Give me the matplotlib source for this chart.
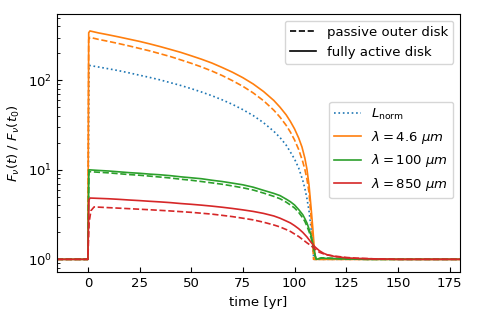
import numpy as np
import matplotlib
matplotlib.use("Agg")
import matplotlib.pyplot as plt
from matplotlib.lines import Line2D

plt.rcParams['font.size'] = 9.5
plt.rcParams['mathtext.fontset'] = 'dejavusans'

# values (time in yr, flux ratio)
t_lnorm = [-15, 0, 0.5, 5, 10, 15, 20, 25, 30, 35, 40, 45, 50, 55, 60, 65, 70, 75, 80, 85,
           90, 93, 96, 98, 100, 102, 104, 105, 106, 107, 108, 108.5, 109.2, 109.6, 180]
lnorm = [1, 1, 147, 141, 134.5, 128, 121, 114, 107.6, 101, 94, 87.5, 80.7, 74, 67.3, 60.5, 53.8, 47, 40.4, 33.6,
         26.9, 22.9, 18.8, 15.8, 13.2, 10.5, 7.6, 6.2, 4.8, 3.5, 2.2, 1.6, 1.1, 1.0, 1.0]

t_46_act = [-15, 0, 0.4, 1, 5, 10, 15, 20, 25, 30, 35, 40, 45, 50, 55, 60, 65, 70, 75, 80, 85,
            90, 93, 96, 98, 100, 102, 103.6, 105, 106, 107, 108, 108.8, 109.4, 110, 180]
f_46_act = [1, 1, 340, 356, 339, 322, 305, 288, 272, 255, 238, 221, 205, 188, 172, 156, 139, 123, 107, 91, 75,
            59.5, 50, 41, 34.7, 28.7, 22.7, 18, 13.5, 10.2, 6.8, 3.8, 2.3, 1.5, 1.0, 1.0]
t_46_pas = [-15, 0, 0.4, 1, 5, 10, 15, 20, 25, 30, 35, 40, 45, 50, 55, 60, 65, 70, 75, 80, 85,
            90, 93, 96, 98, 100, 102, 104, 105, 106, 107, 108, 108.6, 109.2, 180]
f_46_pas = [1, 1, 285, 302, 287, 272, 257, 242, 227, 213, 198, 184, 169, 155, 141, 127, 113, 99, 85.7, 72.3, 59.2,
            46.3, 38.7, 31.3, 26.4, 21.6, 16.9, 12.3, 10.1, 7.9, 5.6, 3.0, 1.8, 1.0, 1.0]

t_100_act = [-15, 0, 0.5, 5, 10, 15, 20, 25, 30, 35, 40, 45, 50, 55, 60, 65, 70, 75, 80, 85,
             90, 93, 96, 98, 100, 102, 104, 105, 106, 107, 108, 109, 110, 110.5, 113, 118, 125, 135, 180]
f_100_act = [1, 1, 10.0, 9.85, 9.7, 9.5, 9.3, 9.15, 8.95, 8.8, 8.6, 8.35, 8.15, 7.95, 7.65, 7.4, 7.1, 6.8, 6.4, 5.9,
             5.45, 5.15, 4.7, 4.4, 4.05, 3.6, 3.15, 2.85, 2.55, 2.2, 1.85, 1.45, 1.1, 1.0, 1.03, 1.02, 1.01, 1.0, 1.0]
t_100_pas = [-15, 0, 0.5, 5, 10, 15, 20, 25, 30, 35, 40, 45, 50, 55, 60, 65, 70, 75, 80, 85,
             90, 93, 96, 98, 100, 102, 104, 105, 106, 107, 108, 109, 110, 110.5, 113, 118, 125, 135, 180]
f_100_pas = [1, 1, 9.55, 9.4, 9.25, 9.05, 8.85, 8.7, 8.5, 8.3, 8.1, 7.85, 7.65, 7.4, 7.15, 6.9, 6.6, 6.3, 5.95, 5.5,
             5.05, 4.75, 4.35, 4.05, 3.75, 3.35, 2.9, 2.65, 2.35, 2.05, 1.75, 1.4, 1.1, 1.0, 1.04, 1.03, 1.01, 1.0, 1.0]

t_850_act = [-15, 0, 0.5, 1, 5, 10, 15, 20, 25, 30, 35, 40, 45, 50, 55, 60, 65, 70, 75, 80, 85,
             90, 93, 96, 98, 100, 102, 104, 106, 108, 110, 112, 114, 116, 120, 125, 130, 140, 150, 180]
f_850_act = [1, 1, 4.6, 4.84, 4.8, 4.75, 4.68, 4.6, 4.53, 4.45, 4.38, 4.3, 4.2, 4.12, 4.03, 3.93, 3.82, 3.7, 3.57, 3.43, 3.26,
             3.05, 2.88, 2.68, 2.55, 2.38, 2.2, 2.0, 1.78, 1.55, 1.37, 1.25, 1.17, 1.12, 1.07, 1.04, 1.025, 1.01, 1.0, 1.0]
t_850_pas = [-15, 0, 0.6, 1.5, 3, 10, 20, 30, 40, 50, 60, 65, 70, 75, 80, 85,
             90, 93, 96, 98, 100, 102, 104, 106, 108, 110, 112, 115, 119, 125, 130, 140, 150, 180]
f_850_pas = [1, 1, 2.6, 3.5, 3.85, 3.78, 3.68, 3.58, 3.47, 3.35, 3.2, 3.1, 3.0, 2.88, 2.76, 2.6,
             2.42, 2.3, 2.15, 2.05, 1.92, 1.8, 1.66, 1.53, 1.42, 1.3, 1.2, 1.13, 1.09, 1.05, 1.03, 1.01, 1.0, 1.0]

fig = plt.figure(figsize=(4.78, 3.19), dpi=100)
ax = fig.add_axes([0.119, 0.147, 0.843, 0.809])

lw = 1.2
ax.plot(t_lnorm, lnorm, ':', color='C0', lw=lw, label=r'$L_{\rm norm}$')
ax.plot(t_46_pas, f_46_pas, '--', color='C1', lw=lw)
ax.plot(t_46_act, f_46_act, '-', color='C1', lw=lw, label=r'$\lambda = 4.6\ \mu m$')
ax.plot(t_100_pas, f_100_pas, '--', color='C2', lw=lw)
ax.plot(t_100_act, f_100_act, '-', color='C2', lw=lw, label=r'$\lambda = 100\ \mu m$')
ax.plot(t_850_pas, f_850_pas, '--', color='C3', lw=lw)
ax.plot(t_850_act, f_850_act, '-', color='C3', lw=lw, label=r'$\lambda = 850\ \mu m$')

ax.set_yscale('log')
ax.set_xlim(-15, 180)
ax.set_ylim(0.72, 550)
ax.set_xticks([0, 25, 50, 75, 100, 125, 150, 175])
ax.tick_params(which='both', direction='in')
ax.set_xlabel('time [yr]')
ax.set_ylabel(r'$F_\nu(t)\ /\ F_\nu(t_0)$')

leg2 = ax.legend(loc='upper right', bbox_to_anchor=(0.984, 0.66), borderaxespad=0)
ax.add_artist(leg2)
style_handles = [Line2D([], [], color='k', ls='--', lw=lw),
                 Line2D([], [], color='k', ls='-', lw=lw)]
ax.legend(style_handles, ['passive outer disk', 'fully active disk'],
          loc='upper right', bbox_to_anchor=(0.984, 0.974), borderaxespad=0)

fig.savefig('out.png', dpi=100)
